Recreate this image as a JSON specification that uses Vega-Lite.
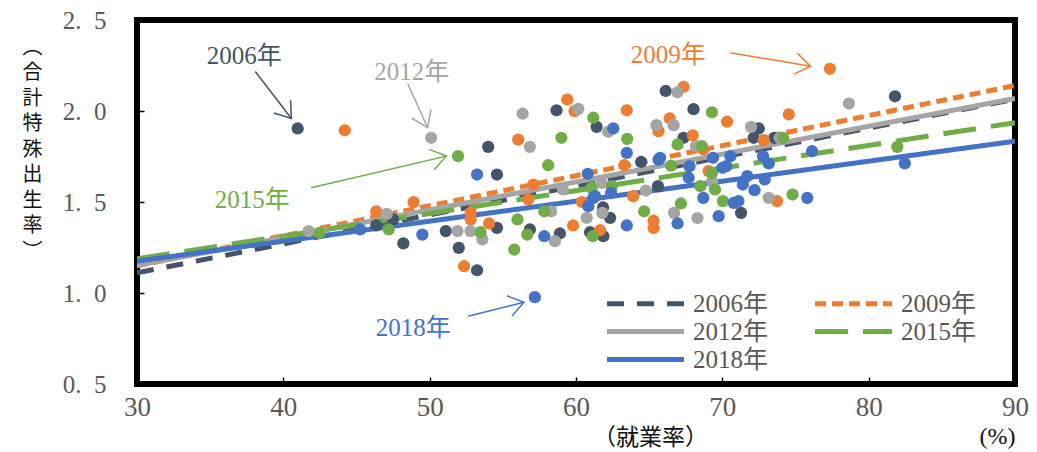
{
  "$schema": "https://vega.github.io/schema/vega-lite/v6.json",
  "width": 878,
  "height": 364,
  "autosize": {"type": "none"},
  "padding": {"left": 137, "top": 20, "right": 22, "bottom": 68},
  "background": "white",
  "view": {"stroke": "black", "strokeWidth": 6},
  "config": {
    "font": "Liberation Serif, Noto Sans CJK JP"
  },
  "datasets": {
    "points": [
      {"year":"2006年","x":40.98,"y":1.904},{"year":"2006年","x":54.0,"y":1.803},{"year":"2006年","x":54.6,"y":1.651},{"year":"2006年","x":58.67,"y":2.004},{"year":"2006年","x":61.41,"y":1.913},{"year":"2006年","x":64.45,"y":1.72},{"year":"2006年","x":66.13,"y":2.11},{"year":"2006年","x":68.03,"y":2.01},{"year":"2006年","x":67.35,"y":1.853},{"year":"2006年","x":65.6,"y":1.587},{"year":"2006年","x":61.85,"y":1.47},{"year":"2006年","x":81.8,"y":2.081},{"year":"2006年","x":72.49,"y":1.904},{"year":"2006年","x":72.14,"y":1.853},{"year":"2006年","x":73.56,"y":1.853},{"year":"2006年","x":71.28,"y":1.44},{"year":"2006年","x":46.35,"y":1.371},{"year":"2006年","x":47.5,"y":1.404},{"year":"2006年","x":48.2,"y":1.273},{"year":"2006年","x":51.1,"y":1.34},{"year":"2006年","x":51.99,"y":1.248},{"year":"2006年","x":53.24,"y":1.125},{"year":"2006年","x":54.6,"y":1.358},{"year":"2006年","x":56.85,"y":1.349},{"year":"2006年","x":58.9,"y":1.327},{"year":"2006年","x":60.96,"y":1.334},{"year":"2006年","x":61.87,"y":1.312},{"year":"2006年","x":62.33,"y":1.413},
      {"year":"2009年","x":44.2,"y":1.894},{"year":"2009年","x":56.05,"y":1.843},{"year":"2009年","x":59.4,"y":2.063},{"year":"2009年","x":59.9,"y":1.999},{"year":"2009年","x":63.47,"y":2.004},{"year":"2009年","x":63.3,"y":1.702},{"year":"2009年","x":67.35,"y":2.133},{"year":"2009年","x":66.4,"y":1.96},{"year":"2009年","x":65.64,"y":1.889},{"year":"2009年","x":67.98,"y":1.866},{"year":"2009年","x":68.7,"y":1.789},{"year":"2009年","x":57.08,"y":1.596},{"year":"2009年","x":56.74,"y":1.514},{"year":"2009年","x":63.9,"y":1.532},{"year":"2009年","x":60.4,"y":1.5},{"year":"2009年","x":77.35,"y":2.232},{"year":"2009年","x":74.54,"y":1.981},{"year":"2009年","x":70.32,"y":1.941},{"year":"2009年","x":72.83,"y":1.84},{"year":"2009年","x":69.06,"y":1.67},{"year":"2009年","x":73.74,"y":1.505},{"year":"2009年","x":46.35,"y":1.449},{"year":"2009年","x":48.9,"y":1.499},{"year":"2009年","x":52.35,"y":1.147},{"year":"2009年","x":54.06,"y":1.382},{"year":"2009年","x":52.8,"y":1.44},{"year":"2009年","x":52.8,"y":1.404},{"year":"2009年","x":59.8,"y":1.371},{"year":"2009年","x":61.64,"y":1.345},{"year":"2009年","x":65.3,"y":1.397},{"year":"2009年","x":65.3,"y":1.358},
      {"year":"2012年","x":50.1,"y":1.853},{"year":"2012年","x":56.85,"y":1.803},{"year":"2012年","x":56.35,"y":1.985},{"year":"2012年","x":60.16,"y":2.012},{"year":"2012年","x":62.2,"y":1.886},{"year":"2012年","x":66.93,"y":2.103},{"year":"2012年","x":65.5,"y":1.922},{"year":"2012年","x":66.67,"y":1.922},{"year":"2012年","x":68.2,"y":1.807},{"year":"2012年","x":59.1,"y":1.569},{"year":"2012年","x":64.77,"y":1.563},{"year":"2012年","x":61.75,"y":1.605},{"year":"2012年","x":78.65,"y":2.041},{"year":"2012年","x":71.96,"y":1.913},{"year":"2012年","x":73.92,"y":1.853},{"year":"2012年","x":69.3,"y":1.614},{"year":"2012年","x":73.17,"y":1.523},{"year":"2012年","x":68.3,"y":1.412},{"year":"2012年","x":47.07,"y":1.435},{"year":"2012年","x":41.73,"y":1.34},{"year":"2012年","x":51.9,"y":1.34},{"year":"2012年","x":52.79,"y":1.34},{"year":"2012年","x":53.6,"y":1.294},{"year":"2012年","x":58.56,"y":1.285},{"year":"2012年","x":58.3,"y":1.449},{"year":"2012年","x":60.73,"y":1.413},{"year":"2012年","x":61.8,"y":1.44},{"year":"2012年","x":66.7,"y":1.44},
      {"year":"2015年","x":51.94,"y":1.752},{"year":"2015年","x":58.1,"y":1.702},{"year":"2015年","x":61.18,"y":1.963},{"year":"2015年","x":63.5,"y":1.847},{"year":"2015年","x":66.5,"y":1.7},{"year":"2015年","x":69.29,"y":1.993},{"year":"2015年","x":66.94,"y":1.816},{"year":"2015年","x":68.6,"y":1.807},{"year":"2015年","x":69.29,"y":1.66},{"year":"2015年","x":68.5,"y":1.587},{"year":"2015年","x":61.07,"y":1.578},{"year":"2015年","x":62.44,"y":1.587},{"year":"2015年","x":74.15,"y":1.853},{"year":"2015年","x":81.96,"y":1.803},{"year":"2015年","x":69.5,"y":1.569},{"year":"2015年","x":74.8,"y":1.541},{"year":"2015年","x":70.04,"y":1.505},{"year":"2015年","x":47.2,"y":1.349},{"year":"2015年","x":42.47,"y":1.331},{"year":"2015年","x":53.47,"y":1.334},{"year":"2015年","x":56.0,"y":1.404},{"year":"2015年","x":55.78,"y":1.239},{"year":"2015年","x":56.67,"y":1.321},{"year":"2015年","x":57.83,"y":1.449},{"year":"2015年","x":61.14,"y":1.312},{"year":"2015年","x":64.66,"y":1.449},{"year":"2015年","x":67.17,"y":1.492},{"year":"2015年","x":59.0,"y":1.853},
      {"year":"2018年","x":57.19,"y":0.977},{"year":"2018年","x":53.24,"y":1.651},{"year":"2018年","x":62.55,"y":1.904},{"year":"2018年","x":63.47,"y":1.77},{"year":"2018年","x":65.64,"y":1.733},{"year":"2018年","x":69.36,"y":1.743},{"year":"2018年","x":67.76,"y":1.697},{"year":"2018年","x":67.7,"y":1.633},{"year":"2018年","x":60.8,"y":1.655},{"year":"2018年","x":61.18,"y":1.523},{"year":"2018年","x":62.4,"y":1.55},{"year":"2018年","x":68.7,"y":1.523},{"year":"2018年","x":76.13,"y":1.779},{"year":"2018年","x":82.47,"y":1.712},{"year":"2018年","x":70.55,"y":1.752},{"year":"2018年","x":70.27,"y":1.697},{"year":"2018年","x":72.78,"y":1.752},{"year":"2018年","x":73.17,"y":1.712},{"year":"2018年","x":71.7,"y":1.642},{"year":"2018年","x":71.4,"y":1.596},{"year":"2018年","x":72.9,"y":1.624},{"year":"2018年","x":72.2,"y":1.565},{"year":"2018年","x":75.8,"y":1.523},{"year":"2018年","x":70.78,"y":1.495},{"year":"2018年","x":71.1,"y":1.505},{"year":"2018年","x":69.75,"y":1.422},{"year":"2018年","x":45.25,"y":1.349},{"year":"2018年","x":49.5,"y":1.321},{"year":"2018年","x":57.83,"y":1.312},{"year":"2018年","x":60.84,"y":1.477},{"year":"2018年","x":61.3,"y":1.532},{"year":"2018年","x":63.47,"y":1.371},{"year":"2018年","x":66.94,"y":1.382},{"year":"2018年","x":65.75,"y":1.743},{"year":"2018年","x":70.0,"y":1.688}
    ],
    "lines": [
      {"year":"2006年","x":30,"y":1.111},{"year":"2006年","x":90,"y":2.065},
      {"year":"2009年","x":30,"y":1.149},{"year":"2009年","x":90,"y":2.14},
      {"year":"2012年","x":30,"y":1.151},{"year":"2012年","x":90,"y":2.069},
      {"year":"2015年","x":30,"y":1.188},{"year":"2015年","x":90,"y":1.936},
      {"year":"2018年","x":30,"y":1.175},{"year":"2018年","x":90,"y":1.834}
    ],
    "notes": [
      {"year":"2006年","tx":37.33,"ty":2.30,"x1":38.08,"y1":2.217,"x2":40.55,"y2":1.959,"angle":52.5},
      {"year":"2012年","tx":48.77,"ty":2.217,"x1":48.5,"y1":2.151,"x2":49.86,"y2":1.909,"angle":65.6},
      {"year":"2009年","tx":66.3,"ty":2.31,"x1":70.55,"y1":2.32,"x2":76.03,"y2":2.246,"angle":9.5},
      {"year":"2015年","tx":37.88,"ty":1.513,"x1":41.9,"y1":1.578,"x2":51.14,"y2":1.752,"angle":-13.2},
      {"year":"2018年","tx":48.87,"ty":0.809,"x1":52.62,"y1":0.872,"x2":56.44,"y2":0.949,"angle":-14.1}
    ],
    "unit": [
      {"label":"(%)","x":88.8,"y":0.21}
    ]
  },
  "layer": [
    {
      "data": {"name": "lines"},
      "mark": {"type": "line", "strokeWidth": 5, "clip": true},
      "encoding": {
        "x": {
          "field": "x", "type": "quantitative",
          "scale": {"domain": [30, 90], "nice": false, "zero": false},
          "axis": {
            "values": [30, 40, 50, 60, 70, 80, 90],
            "grid": false, "domain": false,
            "tickSize": -7, "tickColor": "black", "tickWidth": 1.5,
            "labelFont": "Liberation Serif", "labelFontSize": 27, "labelColor": "#595959",
            "labelPadding": 17, "labelFlush": false, "labelOverlap": false,
            "title": "（就業率）", "titleFont": "Noto Sans CJK JP",
            "titleFontSize": 23, "titleFontWeight": "normal", "titleColor": "#111111",
            "titleX": 513, "titleY": 53, "titleAlign": "center", "titleBaseline": "middle"
          }
        },
        "y": {
          "field": "y", "type": "quantitative",
          "scale": {"domain": [0.5, 2.5], "nice": false, "zero": false},
          "axis": {
            "values": [0.5, 1, 1.5, 2, 2.5],
            "labelExpr": "replace(format(datum.value, '.1f'), '.', '.\u2002')",
            "grid": false, "domain": false,
            "tickSize": -7, "tickColor": "black", "tickWidth": 1.5,
            "labelFont": "Liberation Serif", "labelFontSize": 25, "labelColor": "#595959",
            "labelPadding": 38,
            "title": ["︵", "合", "計", "特", "殊", "出", "生", "率", "︶"],
            "titleFont": "Noto Sans CJK JP", "titleFontSize": 20, "titleFontWeight": "normal",
            "titleColor": "#111111", "titleAngle": 0, "titleLineHeight": 25.5,
            "titleX": -105, "titleY": 27, "titleAlign": "center", "titleBaseline": "middle"
          }
        },
        "stroke": {
          "field": "year", "type": "nominal",
          "scale": {"domain": ["2006年","2009年","2012年","2015年","2018年"], "range": ["#44546A","#ED7D31","#A5A5A5","#70AD47","#4472C4"]},
          "legend": {
            "orient": "none", "legendX": 496, "legendY": 271, "columns": 2, "direction": "horizontal", "title": null,
            "symbolType": "M -3.85 0 L 3.85 0", "symbolSize": 400, "symbolStrokeWidth": 5,
            "labelFont": "Liberation Serif, Noto Sans CJK JP", "labelFontSize": 25, "labelColor": "#595959",
            "labelOffset": 35, "columnPadding": 36, "rowPadding": 2, "padding": 0, "labelLimit": 200
          }
        },
        "strokeDash": {
          "field": "year", "type": "nominal",
          "scale": {"domain": ["2006年","2009年","2012年","2015年","2018年"], "range": [[17,13],[11,6],[1,0],[33,15],[1,0]]},
          "legend": {
            "orient": "none", "legendX": 496, "legendY": 271, "columns": 2, "direction": "horizontal", "title": null,
            "symbolType": "M -3.85 0 L 3.85 0", "symbolSize": 400, "symbolStrokeWidth": 5,
            "labelFont": "Liberation Serif, Noto Sans CJK JP", "labelFontSize": 25, "labelColor": "#595959",
            "labelOffset": 35, "columnPadding": 36, "rowPadding": 2, "padding": 0, "labelLimit": 200
          }
        }
      }
    },
    {
      "data": {"name": "points"},
      "mark": {"type": "point", "filled": true, "size": 150, "opacity": 1},
      "encoding": {
        "x": {"field": "x", "type": "quantitative"},
        "y": {"field": "y", "type": "quantitative"},
        "color": {
          "field": "year", "type": "nominal",
          "scale": {"domain": ["2006年","2009年","2012年","2015年","2018年"], "range": ["#44546A","#ED7D31","#A5A5A5","#70AD47","#4472C4"]},
          "legend": null
        },
        "order": {"field": "year"}
      }
    },
    {
      "data": {"name": "notes"},
      "mark": {"type": "text", "fontSize": 25, "font": "Liberation Serif, Noto Sans CJK JP", "align": "center", "baseline": "middle"},
      "encoding": {
        "x": {"field": "tx", "type": "quantitative"},
        "y": {"field": "ty", "type": "quantitative"},
        "text": {"field": "year"},
        "color": {"field": "year", "type": "nominal", "legend": null}
      }
    },
    {
      "data": {"name": "notes"},
      "mark": {"type": "rule", "strokeWidth": 1.5},
      "encoding": {
        "x": {"field": "x1", "type": "quantitative"},
        "y": {"field": "y1", "type": "quantitative"},
        "x2": {"field": "x2"},
        "y2": {"field": "y2"},
        "color": {"field": "year", "type": "nominal", "legend": null}
      }
    },
    {
      "data": {"name": "notes"},
      "mark": {"type": "point", "shape": "M -1 -0.7 L 0 0 L -1 0.7", "filled": false, "size": 900, "strokeWidth": 1.5, "opacity": 1},
      "encoding": {
        "x": {"field": "x2", "type": "quantitative"},
        "y": {"field": "y2", "type": "quantitative"},
        "angle": {"field": "angle", "type": "quantitative", "scale": null},
        "color": {"field": "year", "type": "nominal", "legend": null}
      }
    },
    {
      "data": {"name": "unit"},
      "mark": {"type": "text", "fontSize": 24, "font": "Liberation Serif, Noto Sans CJK JP", "align": "center", "baseline": "middle", "color": "#111111", "clip": false},
      "encoding": {
        "x": {"field": "x", "type": "quantitative"},
        "y": {"field": "y", "type": "quantitative"},
        "text": {"field": "label"}
      }
    }
  ]
}
